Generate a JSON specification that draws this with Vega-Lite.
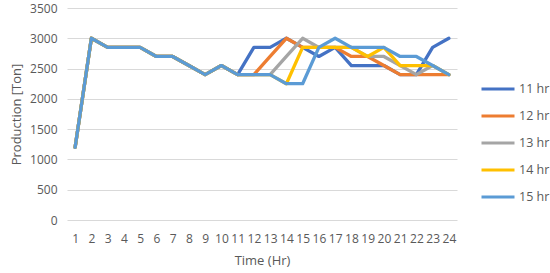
{
  "$schema": "https://vega.github.io/schema/vega-lite/v6.json",
  "width": 390,
  "height": 212,
  "autosize": {"type": "none"},
  "padding": {"left": 67, "top": 8, "right": 93, "bottom": 53},
  "background": "white",
  "config": {
    "view": {"stroke": null},
    "font": "Open Sans",
    "axis": {"labelColor": "#595959", "titleColor": "#595959", "labelFont": "Open Sans", "titleFont": "Open Sans", "titleFontWeight": "normal"},
    "legend": {"labelColor": "#595959", "labelFont": "Open Sans"}
  },
  "data": {"values": [
    {"hour": 1, "series": "11 hr", "value": 1200}, {"hour": 2, "series": "11 hr", "value": 3000}, {"hour": 3, "series": "11 hr", "value": 2850}, {"hour": 4, "series": "11 hr", "value": 2850}, {"hour": 5, "series": "11 hr", "value": 2850}, {"hour": 6, "series": "11 hr", "value": 2700}, {"hour": 7, "series": "11 hr", "value": 2700}, {"hour": 8, "series": "11 hr", "value": 2550}, {"hour": 9, "series": "11 hr", "value": 2400}, {"hour": 10, "series": "11 hr", "value": 2550}, {"hour": 11, "series": "11 hr", "value": 2400}, {"hour": 12, "series": "11 hr", "value": 2850}, {"hour": 13, "series": "11 hr", "value": 2850}, {"hour": 14, "series": "11 hr", "value": 3000}, {"hour": 15, "series": "11 hr", "value": 2850}, {"hour": 16, "series": "11 hr", "value": 2700}, {"hour": 17, "series": "11 hr", "value": 2850}, {"hour": 18, "series": "11 hr", "value": 2550}, {"hour": 19, "series": "11 hr", "value": 2550}, {"hour": 20, "series": "11 hr", "value": 2550}, {"hour": 21, "series": "11 hr", "value": 2400}, {"hour": 22, "series": "11 hr", "value": 2400}, {"hour": 23, "series": "11 hr", "value": 2850}, {"hour": 24, "series": "11 hr", "value": 3000},
    {"hour": 1, "series": "12 hr", "value": 1200}, {"hour": 2, "series": "12 hr", "value": 3000}, {"hour": 3, "series": "12 hr", "value": 2850}, {"hour": 4, "series": "12 hr", "value": 2850}, {"hour": 5, "series": "12 hr", "value": 2850}, {"hour": 6, "series": "12 hr", "value": 2700}, {"hour": 7, "series": "12 hr", "value": 2700}, {"hour": 8, "series": "12 hr", "value": 2550}, {"hour": 9, "series": "12 hr", "value": 2400}, {"hour": 10, "series": "12 hr", "value": 2550}, {"hour": 11, "series": "12 hr", "value": 2400}, {"hour": 12, "series": "12 hr", "value": 2400}, {"hour": 13, "series": "12 hr", "value": 2700}, {"hour": 14, "series": "12 hr", "value": 3000}, {"hour": 15, "series": "12 hr", "value": 2850}, {"hour": 16, "series": "12 hr", "value": 2850}, {"hour": 17, "series": "12 hr", "value": 2850}, {"hour": 18, "series": "12 hr", "value": 2700}, {"hour": 19, "series": "12 hr", "value": 2700}, {"hour": 20, "series": "12 hr", "value": 2550}, {"hour": 21, "series": "12 hr", "value": 2400}, {"hour": 22, "series": "12 hr", "value": 2400}, {"hour": 23, "series": "12 hr", "value": 2400}, {"hour": 24, "series": "12 hr", "value": 2400},
    {"hour": 1, "series": "13 hr", "value": 1200}, {"hour": 2, "series": "13 hr", "value": 3000}, {"hour": 3, "series": "13 hr", "value": 2850}, {"hour": 4, "series": "13 hr", "value": 2850}, {"hour": 5, "series": "13 hr", "value": 2850}, {"hour": 6, "series": "13 hr", "value": 2700}, {"hour": 7, "series": "13 hr", "value": 2700}, {"hour": 8, "series": "13 hr", "value": 2550}, {"hour": 9, "series": "13 hr", "value": 2400}, {"hour": 10, "series": "13 hr", "value": 2550}, {"hour": 11, "series": "13 hr", "value": 2400}, {"hour": 12, "series": "13 hr", "value": 2400}, {"hour": 13, "series": "13 hr", "value": 2400}, {"hour": 14, "series": "13 hr", "value": 2700}, {"hour": 15, "series": "13 hr", "value": 3000}, {"hour": 16, "series": "13 hr", "value": 2850}, {"hour": 17, "series": "13 hr", "value": 2850}, {"hour": 18, "series": "13 hr", "value": 2850}, {"hour": 19, "series": "13 hr", "value": 2700}, {"hour": 20, "series": "13 hr", "value": 2700}, {"hour": 21, "series": "13 hr", "value": 2550}, {"hour": 22, "series": "13 hr", "value": 2400}, {"hour": 23, "series": "13 hr", "value": 2550}, {"hour": 24, "series": "13 hr", "value": 2400},
    {"hour": 1, "series": "14 hr", "value": 1200}, {"hour": 2, "series": "14 hr", "value": 3000}, {"hour": 3, "series": "14 hr", "value": 2850}, {"hour": 4, "series": "14 hr", "value": 2850}, {"hour": 5, "series": "14 hr", "value": 2850}, {"hour": 6, "series": "14 hr", "value": 2700}, {"hour": 7, "series": "14 hr", "value": 2700}, {"hour": 8, "series": "14 hr", "value": 2550}, {"hour": 9, "series": "14 hr", "value": 2400}, {"hour": 10, "series": "14 hr", "value": 2550}, {"hour": 11, "series": "14 hr", "value": 2400}, {"hour": 12, "series": "14 hr", "value": 2400}, {"hour": 13, "series": "14 hr", "value": 2400}, {"hour": 14, "series": "14 hr", "value": 2250}, {"hour": 15, "series": "14 hr", "value": 2850}, {"hour": 16, "series": "14 hr", "value": 2850}, {"hour": 17, "series": "14 hr", "value": 2850}, {"hour": 18, "series": "14 hr", "value": 2850}, {"hour": 19, "series": "14 hr", "value": 2700}, {"hour": 20, "series": "14 hr", "value": 2850}, {"hour": 21, "series": "14 hr", "value": 2550}, {"hour": 22, "series": "14 hr", "value": 2550}, {"hour": 23, "series": "14 hr", "value": 2550}, {"hour": 24, "series": "14 hr", "value": 2400},
    {"hour": 1, "series": "15 hr", "value": 1200}, {"hour": 2, "series": "15 hr", "value": 3000}, {"hour": 3, "series": "15 hr", "value": 2850}, {"hour": 4, "series": "15 hr", "value": 2850}, {"hour": 5, "series": "15 hr", "value": 2850}, {"hour": 6, "series": "15 hr", "value": 2700}, {"hour": 7, "series": "15 hr", "value": 2700}, {"hour": 8, "series": "15 hr", "value": 2550}, {"hour": 9, "series": "15 hr", "value": 2400}, {"hour": 10, "series": "15 hr", "value": 2550}, {"hour": 11, "series": "15 hr", "value": 2400}, {"hour": 12, "series": "15 hr", "value": 2400}, {"hour": 13, "series": "15 hr", "value": 2400}, {"hour": 14, "series": "15 hr", "value": 2250}, {"hour": 15, "series": "15 hr", "value": 2250}, {"hour": 16, "series": "15 hr", "value": 2850}, {"hour": 17, "series": "15 hr", "value": 3000}, {"hour": 18, "series": "15 hr", "value": 2850}, {"hour": 19, "series": "15 hr", "value": 2850}, {"hour": 20, "series": "15 hr", "value": 2850}, {"hour": 21, "series": "15 hr", "value": 2700}, {"hour": 22, "series": "15 hr", "value": 2700}, {"hour": 23, "series": "15 hr", "value": 2550}, {"hour": 24, "series": "15 hr", "value": 2400}
  ]},
  "mark": {"type": "line", "strokeWidth": 3.3, "strokeJoin": "round", "strokeCap": "round"},
  "encoding": {
    "x": {
      "field": "hour", "type": "ordinal",
      "scale": {"type": "point", "padding": 0.5},
      "axis": {"title": "Time (Hr)", "labelAngle": 0, "grid": false, "domain": false, "ticks": false, "labelPadding": 13, "labelFontSize": 12, "titleFontSize": 13, "titlePadding": 10}
    },
    "y": {
      "field": "value", "type": "quantitative",
      "scale": {"domain": [0, 3500], "nice": false},
      "axis": {"title": "Production [Ton]", "values": [0, 500, 1000, 1500, 2000, 2500, 3000, 3500], "format": "d", "grid": true, "gridColor": "#d9d9d9", "gridWidth": 1, "domain": false, "ticks": false, "labelPadding": 10, "labelFontSize": 12, "titleFontSize": 13, "titlePadding": 6}
    },
    "color": {
      "field": "series", "type": "nominal",
      "scale": {"domain": ["11 hr", "12 hr", "13 hr", "14 hr", "15 hr"], "range": ["#4472C4", "#ED7D31", "#A5A5A5", "#FFC000", "#5B9BD5"]},
      "legend": {"title": null, "orient": "none", "legendX": 413, "legendY": 63, "symbolType": "stroke", "symbolSize": 1089, "symbolStrokeWidth": 3, "labelFontSize": 12.5, "labelOffset": 3, "rowPadding": 2}
    }
  }
}
